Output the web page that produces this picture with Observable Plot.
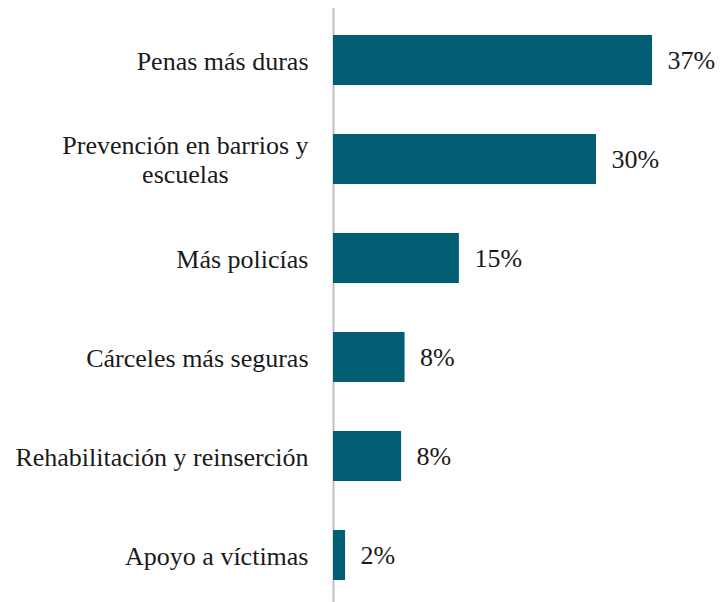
<!DOCTYPE html>
<html>
<head>
<meta charset="utf-8">
<script src="https://cdn.jsdelivr.net/npm/d3@7"></script>
<script src="https://cdn.jsdelivr.net/npm/@observablehq/plot@0.6"></script>
<style>
  html, body { margin: 0; padding: 0; background: #fff; }
  #chart svg { display: block; }
</style>
</head>
<body>
<div id="chart"></div>
<script>
const categories = [
  "Penas más duras",
  "Prevención en barrios y\nescuelas",
  "Más policías",
  "Cárceles más seguras",
  "Rehabilitación y reinserción",
  "Apoyo a víctimas"
];
const values = [37, 30.5, 14.6, 8.3, 7.9, 1.4];
const valueLabels = ["37%", "30%", "15%", "8%", "8%", "2%"];

const data = categories.map((c, i) => ({category: c, value: values[i], label: valueLabels[i]}));

const FONT = "'Liberation Serif', 'Times New Roman', serif";

const chart = Plot.plot({
  width: 721,
  height: 602,
  marginLeft: 333,
  marginRight: 0,
  marginTop: 8,
  marginBottom: 0,
  style: {fontFamily: FONT, fontSize: "26px", color: "#1a1a1a", background: "#fff"},
  x: {domain: [0, 45], axis: null},
  y: {domain: categories, range: [8, 606], paddingInner: 0.5, paddingOuter: 0.25, label: null},
  marks: [
    Plot.ruleX([0], {stroke: "#bfbfbf", strokeWidth: 2}),
    Plot.barX(data, {x: "value", y: "category", fill: "#025e73"}),
    Plot.text(data, {x: "value", y: "category", text: "label", textAnchor: "start", dx: 15, fill: "#1a1a1a", fontSize: 26}),
    Plot.axisY({tickSize: 0, tickPadding: 25, fontSize: 26, lineHeight: 1.12, fill: "#1a1a1a"})
  ]
});

document.getElementById("chart").appendChild(chart);

// Center the lines of a multi-line tick label within its right-aligned block
chart.querySelectorAll("text").forEach(t => {
  const spans = Array.from(t.querySelectorAll("tspan"));
  if (spans.length > 1) {
    const widths = spans.map(s => s.getComputedTextLength());
    const W = Math.max(...widths);
    spans.forEach((s, i) => {
      const x0 = parseFloat(s.getAttribute("x") || "0");
      s.setAttribute("x", x0 - (W - widths[i]) / 2);
    });
  }
});
</script>
</body>
</html>
